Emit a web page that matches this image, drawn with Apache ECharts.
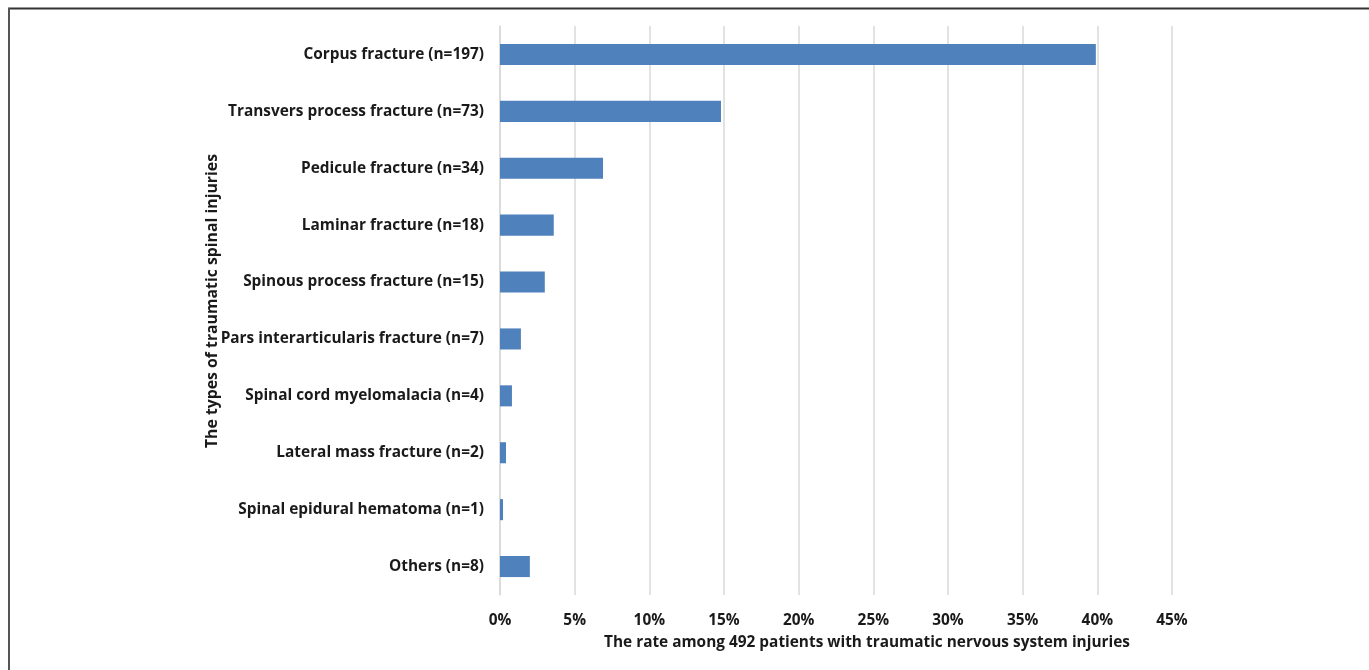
<!DOCTYPE html>
<html>
<head>
<meta charset="utf-8">
<script src="https://cdn.jsdelivr.net/npm/echarts@6/dist/echarts.min.js"></script>
<style>
  html, body { margin: 0; padding: 0; background: #fff; }
  #chart { width: 1369px; height: 670px; }
</style>
</head>
<body>
<div id="chart"></div>
<script>
// Injury types, listed top to bottom
const categories = [
  'Corpus fracture (n=197)',
  'Transvers process fracture (n=73)',
  'Pedicule fracture (n=34)',
  'Laminar fracture (n=18)',
  'Spinous process fracture (n=15)',
  'Pars interarticularis fracture (n=7)',
  'Spinal cord myelomalacia (n=4)',
  'Lateral mass fracture (n=2)',
  'Spinal epidural hematoma (n=1)',
  'Others (n=8)'
];
// Rate (%) among 492 patients
const rates = [39.9, 14.8, 6.9, 3.6, 3.0, 1.4, 0.8, 0.4, 0.2, 2.0];

const xTitle = 'The rate among 492 patients with traumatic nervous system injuries';
const yTitle = 'The types of traumatic spinal injuries';

const FONT = '"Open Sans", sans-serif';
const SIZE = 15.4;
const TEXT = '#1a1a1a';

const chart = echarts.init(document.getElementById('chart'));
chart.setOption({
  animation: false,
  backgroundColor: '#fff',
  grid: { left: 500, right: 197, top: 26, bottom: 75, containLabel: false },
  xAxis: {
    type: 'value',
    min: 0,
    max: 45,
    interval: 5,
    axisLine: { show: false },
    axisTick: { show: false },
    axisLabel: {
      formatter: '{value}%',
      margin: 18,
      color: TEXT,
      fontFamily: FONT,
      fontWeight: 'bold',
      fontSize: SIZE
    },
    splitLine: { show: true, lineStyle: { color: '#d9d9d9', width: 1.5 } }
  },
  yAxis: {
    type: 'category',
    data: categories,
    inverse: true,
    axisLine: { show: true, lineStyle: { color: '#d9d9d9', width: 1.5 } },
    axisTick: { show: false },
    axisLabel: {
      margin: 16,
      color: TEXT,
      fontFamily: FONT,
      fontWeight: 'bold',
      fontSize: SIZE
    }
  },
  series: [{
    type: 'bar',
    data: rates,
    barWidth: '37%',
    itemStyle: { color: '#4f81bd' }
  }],
  graphic: [
    {
      type: 'text',
      x: 867,
      y: 643,
      style: {
        text: xTitle,
        fill: TEXT,
        font: 'bold ' + SIZE + 'px ' + FONT,
        textAlign: 'center',
        textVerticalAlign: 'middle'
      }
    },
    {
      type: 'text',
      x: 212,
      y: 301,
      rotation: Math.PI / 2,
      style: {
        text: yTitle,
        fill: TEXT,
        font: 'bold 15.8px ' + FONT,
        textAlign: 'center',
        textVerticalAlign: 'middle'
      }
    },
    {
      type: 'line',
      shape: { x1: 8, y1: 8.5, x2: 1369, y2: 8.5 },
      style: { stroke: '#333', lineWidth: 2 }
    },
    {
      type: 'line',
      shape: { x1: 9, y1: 8, x2: 9, y2: 670 },
      style: { stroke: '#555', lineWidth: 2 }
    }
  ]
});
</script>
</body>
</html>
